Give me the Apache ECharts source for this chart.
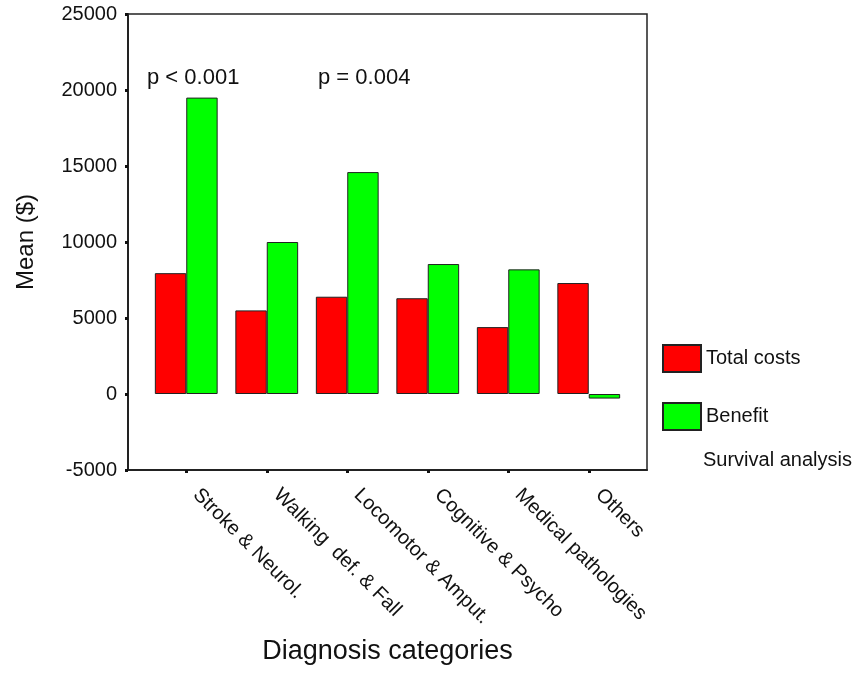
<!DOCTYPE html>
<html>
<head>
<meta charset="utf-8">
<title>Mean costs and benefit by diagnosis category</title>
<script src="https://cdn.jsdelivr.net/npm/echarts@6/dist/echarts.min.js"></script>
<style>
  html, body { margin: 0; padding: 0; background: #fff; }
  #chart { width: 860px; height: 694px; }
</style>
</head>
<body>
<div id="chart"></div>
<script>
// Diagnosis categories on the x axis
const categories = [
  'Stroke & Neurol.',
  'Walking  def. & Fall',
  'Locomotor & Amput.',
  'Cognitive & Psycho',
  'Medical pathologies',
  'Others'
];

// Mean values in dollars
const totalCosts = [7950, 5500, 6400, 6300, 4400, 7300];
const benefit = [19500, 10000, 14600, 8550, 8200, -300];

// Value axis range and step
const yMin = -5000;
const yMax = 25000;
const yStep = 5000;

// Significance notes shown above the bars
const pNotes = ['p < 0.001', 'p = 0.004'];

const FONT = 'Liberation Sans, Arial, sans-serif';
const INK = '#111';

const chart = echarts.init(document.getElementById('chart'), null, { renderer: 'canvas' });

chart.setOption({
  backgroundColor: '#fff',
  animation: false,
  textStyle: { fontFamily: FONT, color: INK },
  grid: [
    // frame with the visible axes
    { left: 128, right: 213, top: 14, bottom: 224, show: true, borderColor: '#222', borderWidth: 1.5, backgroundColor: 'transparent' },
    // inner band where the bars sit
    { left: 146, right: 231, top: 14, bottom: 224 }
  ],
  legend: {
    orient: 'vertical',
    left: 662,
    top: 344,
    padding: 0,
    itemWidth: 38,
    itemHeight: 27,
    itemGap: 29,
    icon: 'rect',
    textStyle: { fontSize: 20, fontFamily: FONT, color: INK },
    data: ['Total costs', 'Benefit']
  },
  xAxis: [
    {
      type: 'category',
      gridIndex: 0,
      data: [''],
      axisLine: { show: true, onZero: false, lineStyle: { color: '#222', width: 2 } },
      axisTick: { show: false },
      axisLabel: { show: false },
      name: 'Diagnosis categories',
      nameLocation: 'middle',
      nameGap: 168,
      nameTextStyle: { fontSize: 27, fontFamily: FONT, color: INK }
    },
    {
      type: 'category',
      gridIndex: 1,
      data: categories,
      axisLine: { show: false, onZero: false },
      axisTick: { show: true, alignWithLabel: true, length: 3, lineStyle: { color: INK, width: 3 } },
      axisLabel: {
        rotate: -45,
        margin: 12,
        padding: [0, 0, 10, 14],
        fontSize: 20,
        fontFamily: FONT,
        color: INK,
        interval: 0
      }
    }
  ],
  yAxis: [
    {
      type: 'value',
      gridIndex: 0,
      min: yMin,
      max: yMax,
      interval: yStep,
      splitLine: { show: false },
      axisLine: { show: true, lineStyle: { color: '#222', width: 2 } },
      axisTick: { show: true, length: 3, lineStyle: { color: INK, width: 3 } },
      axisLabel: {
        fontSize: 20,
        margin: 11,
        fontFamily: FONT,
        color: INK,
        formatter: (v) => String(v)
      },
      name: 'Mean ($)',
      nameLocation: 'middle',
      nameGap: 90,
      nameRotate: 90,
      nameTextStyle: { fontSize: 24, fontFamily: FONT, color: INK }
    },
    {
      type: 'value',
      gridIndex: 1,
      min: yMin,
      max: yMax,
      interval: yStep,
      show: false,
      splitLine: { show: false }
    }
  ],
  series: [
    {
      name: 'Total costs',
      type: 'bar',
      xAxisIndex: 1,
      yAxisIndex: 1,
      data: totalCosts,
      barGap: '0%',
      barCategoryGap: '22%',
      itemStyle: { color: '#ff0000', borderColor: '#222', borderWidth: 1 }
    },
    {
      name: 'Benefit',
      type: 'bar',
      xAxisIndex: 1,
      yAxisIndex: 1,
      data: benefit,
      barGap: '0%',
      barCategoryGap: '22%',
      itemStyle: { color: '#00ff00', borderColor: '#222', borderWidth: 1 }
    }
  ],
  graphic: [
    { type: 'text', left: 147, top: 67, style: { text: pNotes[0], fontSize: 22, fontFamily: FONT, fill: INK } },
    { type: 'text', left: 318, top: 67, style: { text: pNotes[1], fontSize: 22, fontFamily: FONT, fill: INK } },
    { type: 'text', left: 703, top: 450, style: { text: 'Survival analysis', fontSize: 20, fontFamily: FONT, fill: INK } }
  ]
});
</script>
</body>
</html>
